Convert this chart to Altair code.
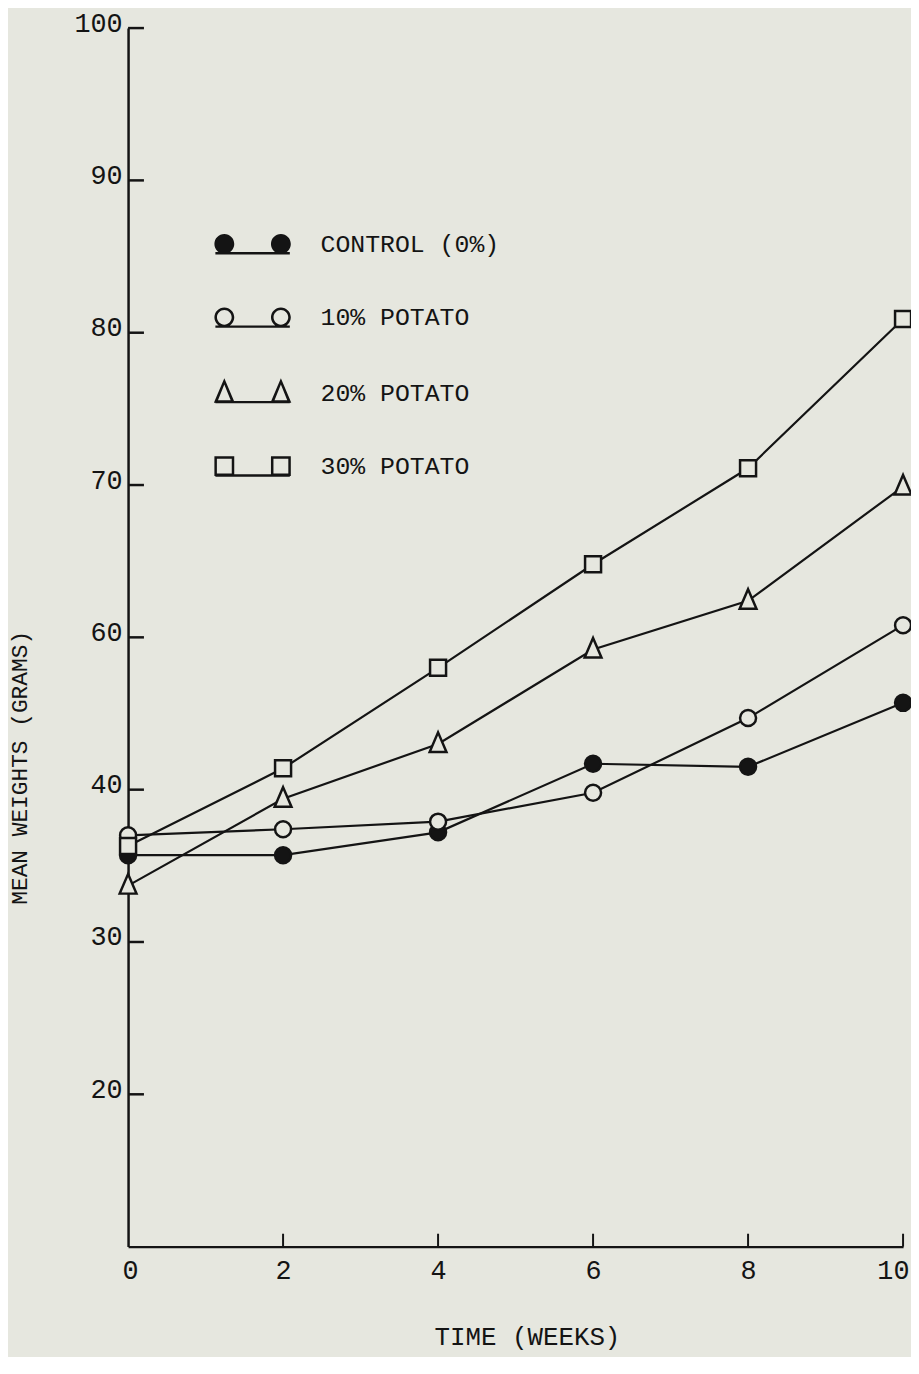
import altair as alt
import pandas as pd

# ---- data ----
weeks = [0, 2, 4, 6, 8, 10]
series_names = ["CONTROL (0%)", "10% POTATO", "20% POTATO", "30% POTATO"]
control = [45.7, 45.7, 47.2, 51.7, 51.5, 55.7]
potato10 = [47.0, 47.4, 47.9, 49.8, 54.7, 60.8]
potato20 = [43.7, 49.4, 53.0, 59.2, 62.4, 69.9]
potato30 = [46.3, 51.4, 58.0, 64.8, 71.1, 80.9]

# y tick positions and the labels typed on the original (the "50" is missing)
y_ticks = [30, 40, 50, 60, 70, 80, 90, 100]
y_tick_labels = ["20", "30", "40", "60", "70", "80", "90", "100"]
x_ticks = [0, 2, 4, 6, 8, 10]

# ---- styles ----
BG = "#e6e7df"
INK = "#141414"
FONT = "Liberation Mono"
W, H = 781, 1228

single_shapes = ["circle", "circle", "M0,-1.45L1.05,1L-1.05,1Z", "square"]

D = 2.85  # half distance between the two legend markers (in symbol units)


def disc(cx):
    return f"M{cx+1},0A1,1,0,1,1,{cx-1},0A1,1,0,1,1,{cx+1},0Z"


def ring(cx, ri=0.74):
    return disc(cx) + f" M{cx+ri},0A{ri},{ri},0,1,0,{cx-ri},0A{ri},{ri},0,1,0,{cx+ri},0Z"


def tri_ring(cx):
    outer = f"M{cx},-1.45L{cx+1.05},1L{cx-1.05},1Z"
    inner = f" M{cx},-0.82L{cx-0.64},0.75L{cx+0.64},0.75Z"
    return outer + inner


def sq_ring(cx):
    outer = f"M{cx-1},-1H{cx+1}V1H{cx-1}Z"
    inner = f" M{cx-0.75},-0.75V0.75H{cx+0.75}V-0.75Z"
    return outer + inner


BAR = f" M{-D-0.9},0.82H{D+0.9}V1.06H{-D-0.9}Z"
double_shapes = [
    disc(-D) + " " + disc(D) + BAR,
    ring(-D) + " " + ring(D) + BAR,
    tri_ring(-D) + " " + tri_ring(D) + BAR,
    sq_ring(-D) + " " + sq_ring(D) + BAR,
]

rows = []
for name, vals in zip(series_names, [control, potato10, potato20, potato30]):
    for w, v in zip(weeks, vals):
        rows.append({"week": w, "weight": v, "series": name})
df = pd.DataFrame(rows)

ytick_df = pd.DataFrame({"v": y_ticks})
xtick_df = pd.DataFrame({"w": x_ticks[1:]})

label_expr = "''"
for t, lab in zip(y_ticks, y_tick_labels):
    label_expr = f"datum.value == {t} ? '{lab}' : ({label_expr})"

x_scale = alt.Scale(domain=[0, 10], nice=False, zero=False)
y_scale = alt.Scale(domain=[20, 100], nice=False, zero=False)

x_enc = alt.X(
    "week:Q",
    scale=x_scale,
    axis=alt.Axis(
        values=x_ticks, format="d", grid=False, ticks=False, tickSize=0,
        domainColor=INK, domainWidth=2.5, labelFlush=True, labelFlushOffset=6,
        labelFont=FONT, labelFontSize=27, labelColor=INK,
        labelBaseline="middle", labelPadding=24,
        title="TIME (WEEKS)", titleFont=FONT, titleFontSize=26,
        titleFontWeight="normal", titleColor=INK,
        titleX=402, titleY=91, titleBaseline="middle",
    ),
)
y_enc = alt.Y(
    "weight:Q",
    scale=y_scale,
    axis=alt.Axis(
        values=y_ticks, labelExpr=label_expr, grid=False, ticks=False, tickSize=0,
        domainColor=INK, domainWidth=2.5, labelFlush=False,
        labelFont=FONT, labelFontSize=27, labelColor=INK,
        labelAlign="right", labelBaseline="middle", labelPadding=6, labelOffset=-5,
        title="MEAN WEIGHTS (GRAMS)", titleFont=FONT, titleFontSize=23,
        titleFontWeight="normal", titleColor=INK,
        titleX=-109, titleY=745, titleBaseline="middle",
    ),
)

base = alt.Chart(df)

lines = base.mark_line(color=INK, strokeWidth=2.2).encode(
    x=x_enc, y=y_enc, detail="series:N", order="week:Q"
)

points = base.mark_point(stroke=INK, strokeWidth=2.5, size=260, opacity=1).encode(
    x=alt.X("week:Q", scale=x_scale),
    y=alt.Y("weight:Q", scale=y_scale),
    shape=alt.Shape("series:N", scale=alt.Scale(domain=series_names, range=single_shapes), legend=None),
    fill=alt.condition(alt.datum.series == series_names[0], alt.value(INK), alt.value(BG)),
)

leg = alt.Legend(
    orient="none", legendX=113, legendY=205, title=None, padding=0,
    labelFont=FONT, labelFontSize=25, labelColor=INK, labelOffset=56, labelLimit=500,
    rowPadding=48, symbolSize=400, symbolStrokeWidth=0, symbolFillColor=INK,
    symbolStrokeColor=INK, symbolOpacity=1,
)
legend_layer = base.transform_filter("false").mark_point(
    filled=True, color=INK, strokeWidth=0, size=400, opacity=1
).encode(
    x=alt.X("week:Q", scale=x_scale),
    y=alt.Y("weight:Q", scale=y_scale),
    shape=alt.Shape("series:N", scale=alt.Scale(domain=series_names, range=double_shapes), legend=leg),
)

ytick_marks = alt.Chart(ytick_df).mark_rule(color=INK, strokeWidth=2.5).encode(
    y=alt.Y("v:Q", scale=y_scale), x=alt.value(0), x2=alt.value(16)
)
xtick_marks = alt.Chart(xtick_df).mark_rule(color=INK, strokeWidth=2).encode(
    x=alt.X("w:Q", scale=x_scale), y=alt.value(H), y2=alt.value(H - 13)
)

chart = (
    alt.layer(lines, ytick_marks, xtick_marks, points, legend_layer)
    .resolve_scale(shape="independent")
    .properties(
        width=W, height=H, background=BG,
        autosize=alt.AutoSizeParams(type="none"),
        padding={"left": 121, "top": 15, "right": 8, "bottom": 106},
    )
    .configure_view(stroke=None)
)

chart.save("out.html", embed_options={"renderer": "svg", "actions": False})
